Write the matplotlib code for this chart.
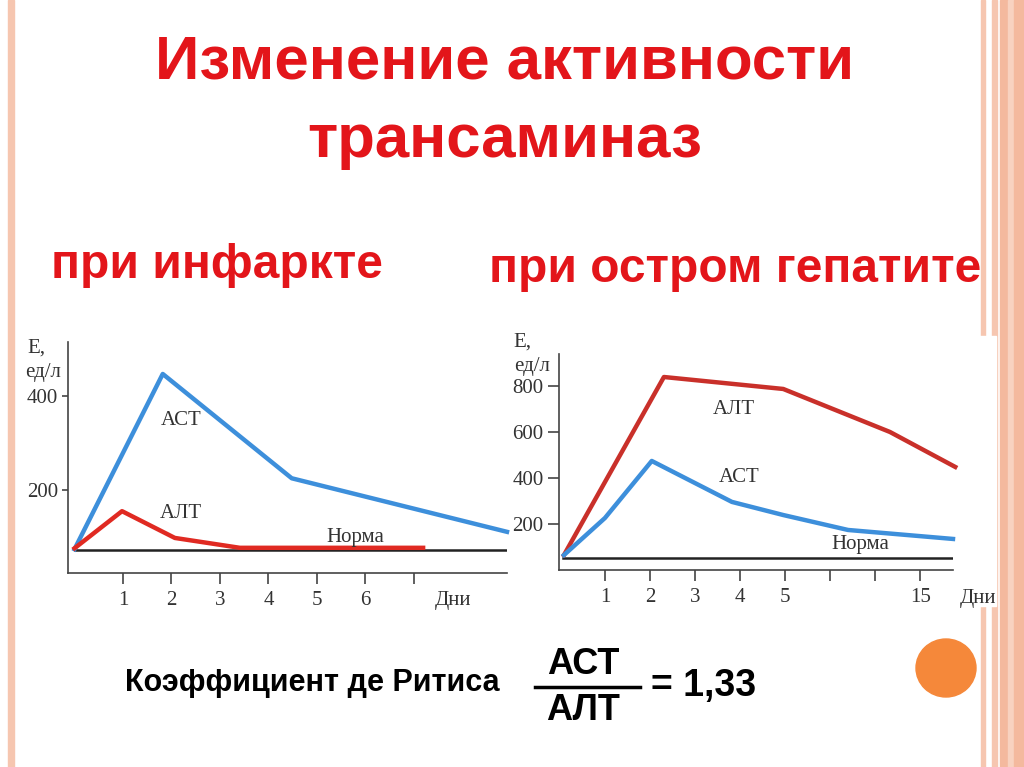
import matplotlib
matplotlib.use("Agg")
import matplotlib.pyplot as plt
from matplotlib.patches import Rectangle, Ellipse

# --- data: infarction (left panel)
inf_ast_x = [0, 1.82, 4.48, 8.92]
inf_ast_y = [74, 447, 225, 111]
inf_alt_x = [0, 0.98, 2.07, 3.41, 7.19]
inf_alt_y = [76, 155, 98, 77, 77]
inf_norm = 72
inf_ticks = [1, 2, 3, 4, 5, 6, 7]
inf_ticklabels = ["1", "2", "3", "4", "5", "6", ""]
inf_yticks = [200, 400]

# --- data: acute hepatitis (right panel)
hep_alt_x = [0.09, 2.31, 4.96, 7.33, 8.78]
hep_alt_y = [65, 839, 787, 600, 448]
hep_ast_x = [0.09, 1.0, 2.04, 3.82, 4.96, 6.4, 8.73]
hep_ast_y = [65, 226, 474, 296, 239, 174, 135]
hep_norm = 52
hep_ticks = [1, 2, 3, 4, 5, 6, 7, 8]
hep_ticklabels = ["1", "2", "3", "4", "5", "", "", "15"]
hep_yticks = [200, 400, 600, 800]

W, H = 1024, 767
fig = plt.figure(figsize=(W / 100, H / 100), dpi=100)
fig.patch.set_facecolor("white")

def fx(px):
    return px / W

def fy(py):
    return 1 - py / H

def ftext(px, py, s, **kw):
    fig.text(fx(px), fy(py), s, **kw)

# decorative stripes
stripe = "#f6c6b0"
fig.patches.append(Rectangle((fx(8), 0), fx(6), 1, transform=fig.transFigure, color=stripe, zorder=0))
for x0, w, c in [(981, 4, stripe), (992, 5, stripe), (1000, 8, "#f4b99e"),
                 (1008, 6, "#f8d2c0"), (1014, 10, "#f4b99e")]:
    fig.patches.append(Rectangle((fx(x0), 0), fx(w), 1, transform=fig.transFigure,
                                 color=c, zorder=0))
# white pasted picture area on the right
fig.patches.append(Rectangle((fx(490), fy(606)), fx(506), 270 / H, transform=fig.transFigure,
                             color="white", zorder=0.5))
# orange circle
fig.patches.append(Ellipse((fx(946), fy(668)), fx(60), 58 / H, transform=fig.transFigure,
                           color="#f5883a", zorder=1))

red = "#e3151a"
sans = "Liberation Sans"
ftext(505, 63, "Изменение активности", ha="center", va="center", fontsize=44.5,
      fontweight="bold", color=red, family=sans)
ftext(505, 141, "трансаминаз", ha="center", va="center", fontsize=44.5,
      fontweight="bold", color=red, family=sans)
ftext(217, 266, "при инфаркте", ha="center", va="center", fontsize=34.5,
      fontweight="bold", color=red, family=sans)
ftext(735, 269, "при остром гепатите", ha="center", va="center", fontsize=34.5,
      fontweight="bold", color=red, family=sans)

ftext(312, 683, "Коэффициент де Ритиса", ha="center", va="center", fontsize=22,
      fontweight="bold", color="black", family=sans)
ftext(583, 664, "АСТ", ha="center", va="center", fontsize=26,
      fontweight="bold", color="black", family=sans)
ftext(583, 710, "АЛТ", ha="center", va="center", fontsize=26,
      fontweight="bold", color="black", family=sans)
fig.add_artist(plt.Line2D([fx(535), fx(640)], [fy(687), fy(687)], transform=fig.transFigure,
                          color="black", lw=2.5))
ftext(704, 686, "= 1,33", ha="center", va="center", fontsize=27,
      fontweight="bold", color="black", family=sans)

serif = "Liberation Serif"
gray = "#333333"
blue = "#3d8fdb"
fs = 15


def style_ax(ax, ticks, labels, yticks, ylen):
    ax.set_zorder(3)
    for s in ["top", "right"]:
        ax.spines[s].set_visible(False)
    for s in ["left", "bottom"]:
        ax.spines[s].set_color("#444444")
        ax.spines[s].set_linewidth(1.2)
    ax.set_xticks(ticks)
    ax.set_xticklabels(labels, family=serif, fontsize=fs, color=gray)
    ax.set_yticks(yticks)
    ax.set_yticklabels([str(v) for v in yticks], family=serif, fontsize=fs, color=gray)
    ax.tick_params(axis="x", direction="out", length=8, width=1.2, color="#444444", pad=5)
    ax.tick_params(axis="y", direction="out", length=ylen, width=1.2, color="#444444", pad=3)
    ax.patch.set_alpha(0)


# left panel
ax1 = fig.add_axes([fx(68), fy(573), fx(507 - 68), (573 - 342) / H])
ax1.set_xlim(-0.134, 8.92)
ax1.set_ylim(23.4, 515)
ax1.axhline(inf_norm, color="#222222", lw=1.8, xmin=0.015)
ax1.plot(inf_ast_x, inf_ast_y, color=blue, lw=3.2, solid_joinstyle="round", clip_on=False)
ax1.plot(inf_alt_x, inf_alt_y, color="#e02a22", lw=3.2, solid_joinstyle="round")
ax1.text(2.2, 348, "АСТ", family=serif, fontsize=fs, color=gray, ha="center", va="center")
ax1.text(2.2, 149, "АЛТ", family=serif, fontsize=fs, color=gray, ha="center", va="center")
ax1.text(5.8, 100, "Норма", family=serif, fontsize=fs, color=gray, ha="center", va="center")
style_ax(ax1, inf_ticks, inf_ticklabels, inf_yticks, 4)
ftext(453, 601, "Дни", family=serif, fontsize=fs, color=gray, ha="center", va="center")
ftext(36, 348, "Е,", family=serif, fontsize=fs, color=gray, ha="center", va="center")
ftext(43, 372, "ед/л", family=serif, fontsize=fs, color=gray, ha="center", va="center")

# right panel
ax2 = fig.add_axes([fx(559), fy(570), fx(953 - 559), (570 - 354) / H])
ax2.set_xlim(-0.02, 8.73)
ax2.set_ylim(0, 939)
ax2.axhline(hep_norm, color="#222222", lw=1.8, xmin=0.01)
ax2.plot(hep_alt_x, hep_alt_y, color="#c9302a", lw=3.2, solid_joinstyle="round", clip_on=False)
ax2.plot(hep_ast_x, hep_ast_y, color=blue, lw=3.2, solid_joinstyle="round", clip_on=False)
ax2.text(3.87, 696, "АЛТ", family=serif, fontsize=fs, color=gray, ha="center", va="center")
ax2.text(3.98, 404, "АСТ", family=serif, fontsize=fs, color=gray, ha="center", va="center")
ax2.text(6.67, 109, "Норма", family=serif, fontsize=fs, color=gray, ha="center", va="center")
style_ax(ax2, hep_ticks, hep_ticklabels, hep_yticks, 8)
ftext(978, 598, "Дни", family=serif, fontsize=fs, color=gray, ha="center", va="center")
ftext(522, 342, "Е,", family=serif, fontsize=fs, color=gray, ha="center", va="center")
ftext(532, 366, "ед/л", family=serif, fontsize=fs, color=gray, ha="center", va="center")

fig.savefig("out.png", dpi=100)
